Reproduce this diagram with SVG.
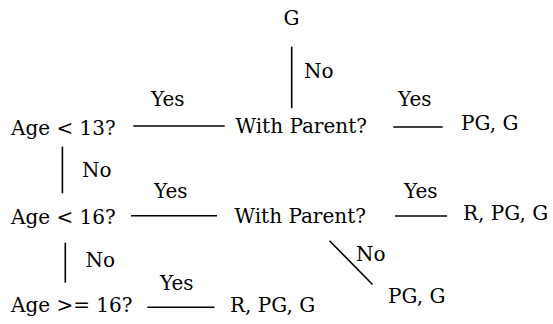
<svg xmlns="http://www.w3.org/2000/svg" width="553" height="324" viewBox="0 0 553 324">
<style>
text{font-family:"DejaVu Serif","Liberation Serif",serif;font-size:20px;fill:#000}
.c line{stroke:#000;stroke-width:1.6}
</style>
<rect width="553" height="324" fill="#fff"/>
<g id="connectors" class="c">
<line x1="291.7" y1="46.7" x2="291.7" y2="108.3"/>
<line x1="133.3" y1="126" x2="224.7" y2="126"/>
<line x1="393.3" y1="127" x2="442.7" y2="127"/>
<line x1="62.4" y1="146.7" x2="62.4" y2="193.3"/>
<line x1="131" y1="215.7" x2="217" y2="215.7"/>
<line x1="395" y1="216" x2="447" y2="216"/>
<line x1="329.5" y1="240.7" x2="372.5" y2="284.5"/>
<line x1="65.3" y1="242.7" x2="65.3" y2="282.7"/>
<line x1="147.4" y1="307.3" x2="214.5" y2="307.3"/>
<g id="edge-labels">
<text x="304" y="78">No</text>
<text x="151" y="105.7">Yes</text>
<text x="398" y="105.7">Yes</text>
<text x="82" y="177">No</text>
<text x="154" y="198">Yes</text>
<text x="404" y="198">Yes</text>
<text x="356" y="260.5">No</text>
<text x="85.5" y="267">No</text>
<text x="160" y="290">Yes</text>
</g>
</g>
<g id="g-top"><text x="283.5" y="25">G</text></g>
<g id="age13"><text x="11" y="135">Age &lt; 13?</text></g>
<g id="parent1"><text x="235.5" y="133.3">With Parent?</text></g>
<g id="pg-g-1"><text x="461" y="130">PG, G</text></g>
<g id="age16"><text x="11" y="224">Age &lt; 16?</text></g>
<g id="parent2"><text x="234.5" y="223.3">With Parent?</text></g>
<g id="r-pg-g-1"><text x="463" y="220">R, PG, G</text></g>
<g id="pg-g-2"><text x="388" y="303">PG, G</text></g>
<g id="age16plus"><text x="11" y="312">Age &gt;= 16?</text></g>
<g id="r-pg-g-2"><text x="230" y="312">R, PG, G</text></g>
</svg>
